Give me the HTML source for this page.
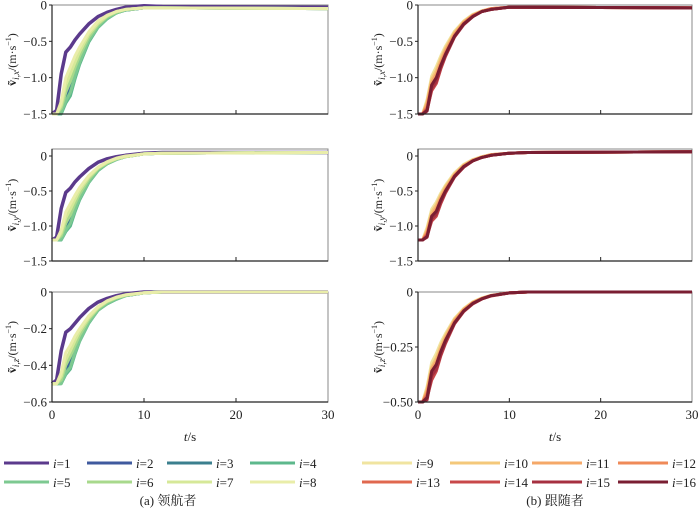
<!DOCTYPE html>
<html><head><meta charset="utf-8"><style>
html,body{margin:0;padding:0;background:#fff}
svg{display:block;font-family:"Liberation Serif","Noto Serif CJK SC",serif}
</style></head><body>
<svg id="chart" width="700" height="509" viewBox="0 0 700 509"></svg>
<script>
const T = [0,0.5,1,1.5,2,2.5,3,4,5,6,7,8,10,12,30];
// leader (left) x-velocity series, i=1..8
const leadX1 = [-1.5,-1.45,-0.95,-0.65,-0.58,-0.48,-0.40,-0.26,-0.16,-0.10,-0.06,-0.03,-0.01,-0.02,-0.03];
const leadX2 = [-1.5,-1.5,-1.45,-1.25,-1.1,-0.92,-0.74,-0.46,-0.28,-0.17,-0.10,-0.07,-0.04,-0.04,-0.05];
const leadX3 = [-1.5,-1.5,-1.47,-1.3,-1.18,-0.97,-0.78,-0.48,-0.29,-0.18,-0.11,-0.07,-0.04,-0.04,-0.05];
const leadX4 = [-1.5,-1.5,-1.5,-1.35,-1.25,-1.02,-0.82,-0.51,-0.31,-0.19,-0.11,-0.07,-0.04,-0.04,-0.05];
const leadX5 = [-1.5,-1.5,-1.48,-1.32,-1.2,-0.98,-0.79,-0.49,-0.30,-0.18,-0.11,-0.07,-0.04,-0.04,-0.05];
const leadX6 = [-1.5,-1.5,-1.42,-1.2,-1.05,-0.86,-0.70,-0.44,-0.27,-0.16,-0.10,-0.06,-0.04,-0.04,-0.05];
const leadX7 = [-1.5,-1.5,-1.38,-1.1,-0.95,-0.79,-0.64,-0.40,-0.25,-0.15,-0.09,-0.06,-0.04,-0.04,-0.05];
const leadX8 = [-1.5,-1.5,-1.33,-1.0,-0.85,-0.70,-0.58,-0.37,-0.22,-0.14,-0.09,-0.06,-0.04,-0.04,-0.05];
const leadY1 = [-1.2,-1.16,-0.75,-0.52,-0.46,-0.37,-0.30,-0.18,-0.09,-0.04,-0.01,0.01,0.04,0.05,0.05];
const leadY2 = [-1.2,-1.2,-1.16,-1.0,-0.88,-0.72,-0.57,-0.34,-0.19,-0.10,-0.04,-0.01,0.03,0.04,0.05];
const leadY3 = [-1.2,-1.2,-1.18,-1.04,-0.94,-0.76,-0.60,-0.36,-0.20,-0.11,-0.05,-0.01,0.03,0.04,0.05];
const leadY4 = [-1.2,-1.2,-1.2,-1.08,-1.0,-0.80,-0.63,-0.38,-0.21,-0.11,-0.05,-0.01,0.03,0.04,0.05];
const leadY5 = [-1.2,-1.2,-1.19,-1.06,-0.96,-0.77,-0.61,-0.37,-0.20,-0.11,-0.05,-0.01,0.03,0.04,0.05];
const leadY6 = [-1.2,-1.2,-1.14,-0.96,-0.84,-0.68,-0.54,-0.33,-0.18,-0.10,-0.04,-0.01,0.03,0.04,0.05];
const leadY7 = [-1.2,-1.2,-1.1,-0.88,-0.76,-0.62,-0.49,-0.30,-0.17,-0.09,-0.04,-0.01,0.03,0.04,0.05];
const leadY8 = [-1.2,-1.2,-1.06,-0.8,-0.68,-0.56,-0.45,-0.28,-0.16,-0.08,-0.03,0.0,0.03,0.04,0.05];
const leadZ1 = [-0.5,-0.48,-0.32,-0.22,-0.20,-0.17,-0.14,-0.09,-0.055,-0.035,-0.02,-0.01,0,0,0];
const leadZ2 = [-0.5,-0.5,-0.49,-0.43,-0.38,-0.31,-0.25,-0.16,-0.095,-0.06,-0.035,-0.02,-0.005,0,0];
const leadZ3 = [-0.5,-0.5,-0.49,-0.44,-0.40,-0.32,-0.26,-0.165,-0.10,-0.06,-0.035,-0.02,-0.005,0,0];
const leadZ4 = [-0.5,-0.5,-0.5,-0.45,-0.42,-0.34,-0.27,-0.17,-0.10,-0.065,-0.04,-0.02,-0.005,0,0];
const leadZ5 = [-0.5,-0.5,-0.5,-0.44,-0.41,-0.33,-0.265,-0.165,-0.10,-0.062,-0.037,-0.02,-0.005,0,0];
const leadZ6 = [-0.5,-0.5,-0.48,-0.40,-0.35,-0.29,-0.235,-0.15,-0.09,-0.055,-0.032,-0.018,-0.005,0,0];
const leadZ7 = [-0.5,-0.5,-0.46,-0.37,-0.32,-0.265,-0.215,-0.14,-0.085,-0.05,-0.03,-0.017,-0.005,0,0];
const leadZ8 = [-0.5,-0.5,-0.44,-0.33,-0.29,-0.24,-0.20,-0.13,-0.08,-0.048,-0.028,-0.015,-0.004,0,0];
// followers (right) i=9..16
const folX9  = [-1.5,-1.5,-1.3,-0.98,-0.85,-0.70,-0.57,-0.36,-0.22,-0.13,-0.08,-0.05,-0.03,-0.03,-0.04];
const folX10 = [-1.5,-1.5,-1.33,-1.02,-0.9,-0.74,-0.60,-0.38,-0.23,-0.14,-0.08,-0.05,-0.03,-0.03,-0.04];
const folX11 = [-1.5,-1.5,-1.36,-1.06,-0.95,-0.78,-0.63,-0.40,-0.24,-0.14,-0.09,-0.05,-0.03,-0.03,-0.04];
const folX12 = [-1.5,-1.5,-1.4,-1.1,-1.0,-0.82,-0.66,-0.42,-0.25,-0.15,-0.09,-0.05,-0.03,-0.03,-0.04];
const folX13 = [-1.5,-1.5,-1.42,-1.14,-1.04,-0.85,-0.69,-0.43,-0.26,-0.15,-0.09,-0.06,-0.03,-0.03,-0.04];
const folX14 = [-1.5,-1.5,-1.44,-1.18,-1.08,-0.88,-0.71,-0.44,-0.27,-0.16,-0.09,-0.06,-0.03,-0.03,-0.04];
const folX15 = [-1.5,-1.5,-1.46,-1.15,-1.05,-0.86,-0.70,-0.44,-0.27,-0.16,-0.09,-0.06,-0.03,-0.03,-0.04];
const folX16 = [-1.5,-1.5,-1.45,-1.1,-1.0,-0.83,-0.68,-0.43,-0.26,-0.16,-0.09,-0.06,-0.03,-0.03,-0.04];
const folY9  = [-1.2,-1.2,-1.02,-0.76,-0.66,-0.53,-0.42,-0.24,-0.12,-0.05,-0.01,0.02,0.04,0.05,0.06];
const folY10 = [-1.2,-1.2,-1.05,-0.8,-0.70,-0.56,-0.44,-0.26,-0.13,-0.06,-0.01,0.02,0.04,0.05,0.06];
const folY11 = [-1.2,-1.2,-1.08,-0.84,-0.74,-0.59,-0.47,-0.27,-0.14,-0.06,-0.02,0.02,0.04,0.05,0.06];
const folY12 = [-1.2,-1.2,-1.1,-0.87,-0.78,-0.62,-0.49,-0.28,-0.15,-0.07,-0.02,0.01,0.04,0.05,0.06];
const folY13 = [-1.2,-1.2,-1.12,-0.9,-0.82,-0.65,-0.51,-0.29,-0.15,-0.07,-0.02,0.01,0.04,0.05,0.06];
const folY14 = [-1.2,-1.2,-1.14,-0.93,-0.86,-0.68,-0.53,-0.30,-0.16,-0.07,-0.02,0.01,0.04,0.05,0.06];
const folY15 = [-1.2,-1.2,-1.16,-0.9,-0.83,-0.66,-0.52,-0.30,-0.16,-0.07,-0.02,0.01,0.04,0.05,0.06];
const folY16 = [-1.2,-1.2,-1.15,-0.86,-0.79,-0.63,-0.50,-0.29,-0.15,-0.07,-0.02,0.01,0.04,0.05,0.06];
const folZ9  = [-0.5,-0.5,-0.43,-0.32,-0.28,-0.23,-0.19,-0.12,-0.075,-0.045,-0.027,-0.015,-0.004,0,0];
const folZ10 = [-0.5,-0.5,-0.44,-0.34,-0.30,-0.245,-0.20,-0.125,-0.078,-0.047,-0.028,-0.016,-0.004,0,0];
const folZ11 = [-0.5,-0.5,-0.45,-0.35,-0.315,-0.26,-0.21,-0.13,-0.08,-0.048,-0.029,-0.016,-0.004,0,0];
const folZ12 = [-0.5,-0.5,-0.46,-0.37,-0.33,-0.27,-0.22,-0.135,-0.083,-0.05,-0.03,-0.017,-0.004,0,0];
const folZ13 = [-0.5,-0.5,-0.47,-0.38,-0.345,-0.28,-0.23,-0.14,-0.086,-0.052,-0.031,-0.017,-0.004,0,0];
const folZ14 = [-0.5,-0.5,-0.48,-0.40,-0.36,-0.29,-0.235,-0.145,-0.089,-0.054,-0.032,-0.018,-0.004,0,0];
const folZ15 = [-0.5,-0.5,-0.49,-0.38,-0.35,-0.285,-0.23,-0.143,-0.088,-0.053,-0.031,-0.017,-0.004,0,0];
const folZ16 = [-0.5,-0.5,-0.48,-0.36,-0.33,-0.27,-0.22,-0.14,-0.086,-0.052,-0.031,-0.017,-0.004,0,0];

const leadColors = ['#5b3a8c','#3f5a9e','#3b7f8e','#5db88c','#7dc991','#a8d98c','#d6e898','#e9eda9'];
const folColors  = ['#f0e4a0','#f4c87a','#f5a868','#ef8a58','#e0684f','#c8484a','#a63040','#7a1e32'];
const xTicks = [0,10,20,30];

const svg = document.getElementById('chart');
const NS = 'http://www.w3.org/2000/svg';
function mk(tag, attrs, parent){const e=document.createElementNS(NS,tag);for(const k in attrs)e.setAttribute(k,attrs[k]);(parent||svg).appendChild(e);return e;}

const panels = [
 {name:'leader-x', x0:52, x1:328, y0:5, y1:114, d0:-1.5, d1:0, ticks:[0,-0.5,-1.0,-1.5], labels:['0','−0.5','−1.0','−1.5'], sub:'x', series:[leadX1,leadX2,leadX3,leadX4,leadX5,leadX6,leadX7,leadX8], colors:leadColors, first:0, xl:false},
 {name:'leader-y', x0:52, x1:328, y0:149, y1:261, d0:-1.5, d1:0.1, ticks:[0,-0.5,-1.0,-1.5], labels:['0','−0.5','−1.0','−1.5'], sub:'y', series:[leadY1,leadY2,leadY3,leadY4,leadY5,leadY6,leadY7,leadY8], colors:leadColors, first:0, xl:false},
 {name:'leader-z', x0:52, x1:328, y0:292, y1:402, d0:-0.6, d1:0, ticks:[0,-0.2,-0.4,-0.6], labels:['0','−0.2','−0.4','−0.6'], sub:'z', series:[leadZ1,leadZ2,leadZ3,leadZ4,leadZ5,leadZ6,leadZ7,leadZ8], colors:leadColors, first:0, xl:true},
 {name:'follower-x', x0:418, x1:692, y0:5, y1:114, d0:-1.5, d1:0, ticks:[0,-0.5,-1.0,-1.5], labels:['0','−0.5','−1.0','−1.5'], sub:'x', series:[folX9,folX10,folX11,folX12,folX13,folX14,folX15,folX16], colors:folColors, first:8, xl:false},
 {name:'follower-y', x0:418, x1:692, y0:149, y1:261, d0:-1.5, d1:0.1, ticks:[0,-0.5,-1.0,-1.5], labels:['0','−0.5','−1.0','−1.5'], sub:'y', series:[folY9,folY10,folY11,folY12,folY13,folY14,folY15,folY16], colors:folColors, first:8, xl:false},
 {name:'follower-z', x0:418, x1:692, y0:292, y1:402, d0:-0.5, d1:0, ticks:[0,-0.25,-0.5], labels:['0','−0.25','−0.50'], sub:'z', series:[folZ9,folZ10,folZ11,folZ12,folZ13,folZ14,folZ15,folZ16], colors:folColors, first:8, xl:true},
];

panels.forEach(p=>{
  const g = mk('g',{});
  
  
  const sx = t => p.x0 + (t-0)/(30-0)*(p.x1-p.x0);
  const sy = v => p.y1 - (v-p.d0)/(p.d1-p.d0)*(p.y1-p.y0);
  mk('rect',{x:p.x0,y:p.y0,width:p.x1-p.x0,height:p.y1-p.y0,fill:'none',stroke:'#888','stroke-width':1},g);
  // series: later series drawn on top
  for(let k=0;k<p.series.length;k++){
    const vals=p.series[k];
    const d=T.map((t,j)=>(j?'L':'M')+sx(t).toFixed(1)+','+sy(vals[j]).toFixed(1)).join(' ');
    const path=mk('path',{d:d,fill:'none',stroke:p.colors[k],'stroke-width':(p.first===0&&k===0)?3.5:3,'stroke-linejoin':'round'},g);
    
    
  }
  mk('line',{x1:p.x0,y1:p.y0,x2:p.x0,y2:p.y1,stroke:'#222','stroke-width':1.2},g);
  mk('line',{x1:p.x0,y1:p.y1,x2:p.x1,y2:p.y1,stroke:'#222','stroke-width':1.2},g);
  xTicks.forEach(t=>{
    if(t>0&&t<30) mk('line',{x1:sx(t),y1:p.y1,x2:sx(t),y2:p.y1-4,stroke:'#222','stroke-width':1},g);
    if(p.xl){
      const tx=mk('text',{x:sx(t),y:p.y1+17,'text-anchor':'middle','font-size':13,fill:'#222'},g);
      tx.textContent=t;
      
      
    }
  });
  p.ticks.forEach((v,j)=>{
    mk('line',{x1:p.x0,y1:sy(v),x2:p.x0-3,y2:sy(v),stroke:'#222','stroke-width':1},g);
    const ty=mk('text',{x:p.x0-5,y:sy(v)+4.5,'text-anchor':'end','font-size':13,fill:'#222'},g);
    ty.textContent=p.labels[j];
    
    
  });
  const cy=(p.y0+p.y1)/2, cx=p.x0-36;
  const yt=mk('text',{transform:`translate(${cx},${cy}) rotate(-90)`,'text-anchor':'middle','font-size':12,fill:'#222'},g);
  
  
  yt.innerHTML=`<tspan font-weight="bold">ṽ</tspan><tspan font-style="italic" font-size="9" dy="3">i</tspan><tspan font-size="9">,</tspan><tspan font-style="italic" font-size="9">${p.sub}</tspan><tspan dy="-3">/(m·s</tspan><tspan font-size="8" dy="-5">−1</tspan><tspan dy="5">)</tspan>`;
  if(p.xl){
    const xt=mk('text',{x:(p.x0+p.x1)/2,y:441,'text-anchor':'middle','font-size':13,fill:'#222'},g);
    xt.innerHTML='<tspan font-style="italic">t</tspan>/s';
    
    
  }
});

const legPos = [
 {x:[4,87,167,250], len:45, colors:leadColors, first:1},
 {x:[362,450,532,618], len:50, colors:folColors, first:9},
];
legPos.forEach(L=>{
  for(let k=0;k<8;k++){
    const row=Math.floor(k/4), col=k%4;
    const y = row===0?463:482;
    const g=mk('g',{});
    
    
    mk('line',{x1:L.x[col],y1:y,x2:L.x[col]+L.len,y2:y,stroke:L.colors[k],'stroke-width':3},g);
    const t=mk('text',{x:L.x[col]+L.len+4,y:y+5,'font-size':13,fill:'#222'},g);
    t.innerHTML=`<tspan font-style="italic">i</tspan>=${L.first+k}`;
  }
});
const c1=mk('text',{x:168,y:505,'text-anchor':'middle','font-size':13,fill:'#222'});
c1.textContent='(a) 领航者';


const c2=mk('text',{x:555,y:505,'text-anchor':'middle','font-size':13,fill:'#222'});
c2.textContent='(b) 跟随者';


</script>
</body></html>
